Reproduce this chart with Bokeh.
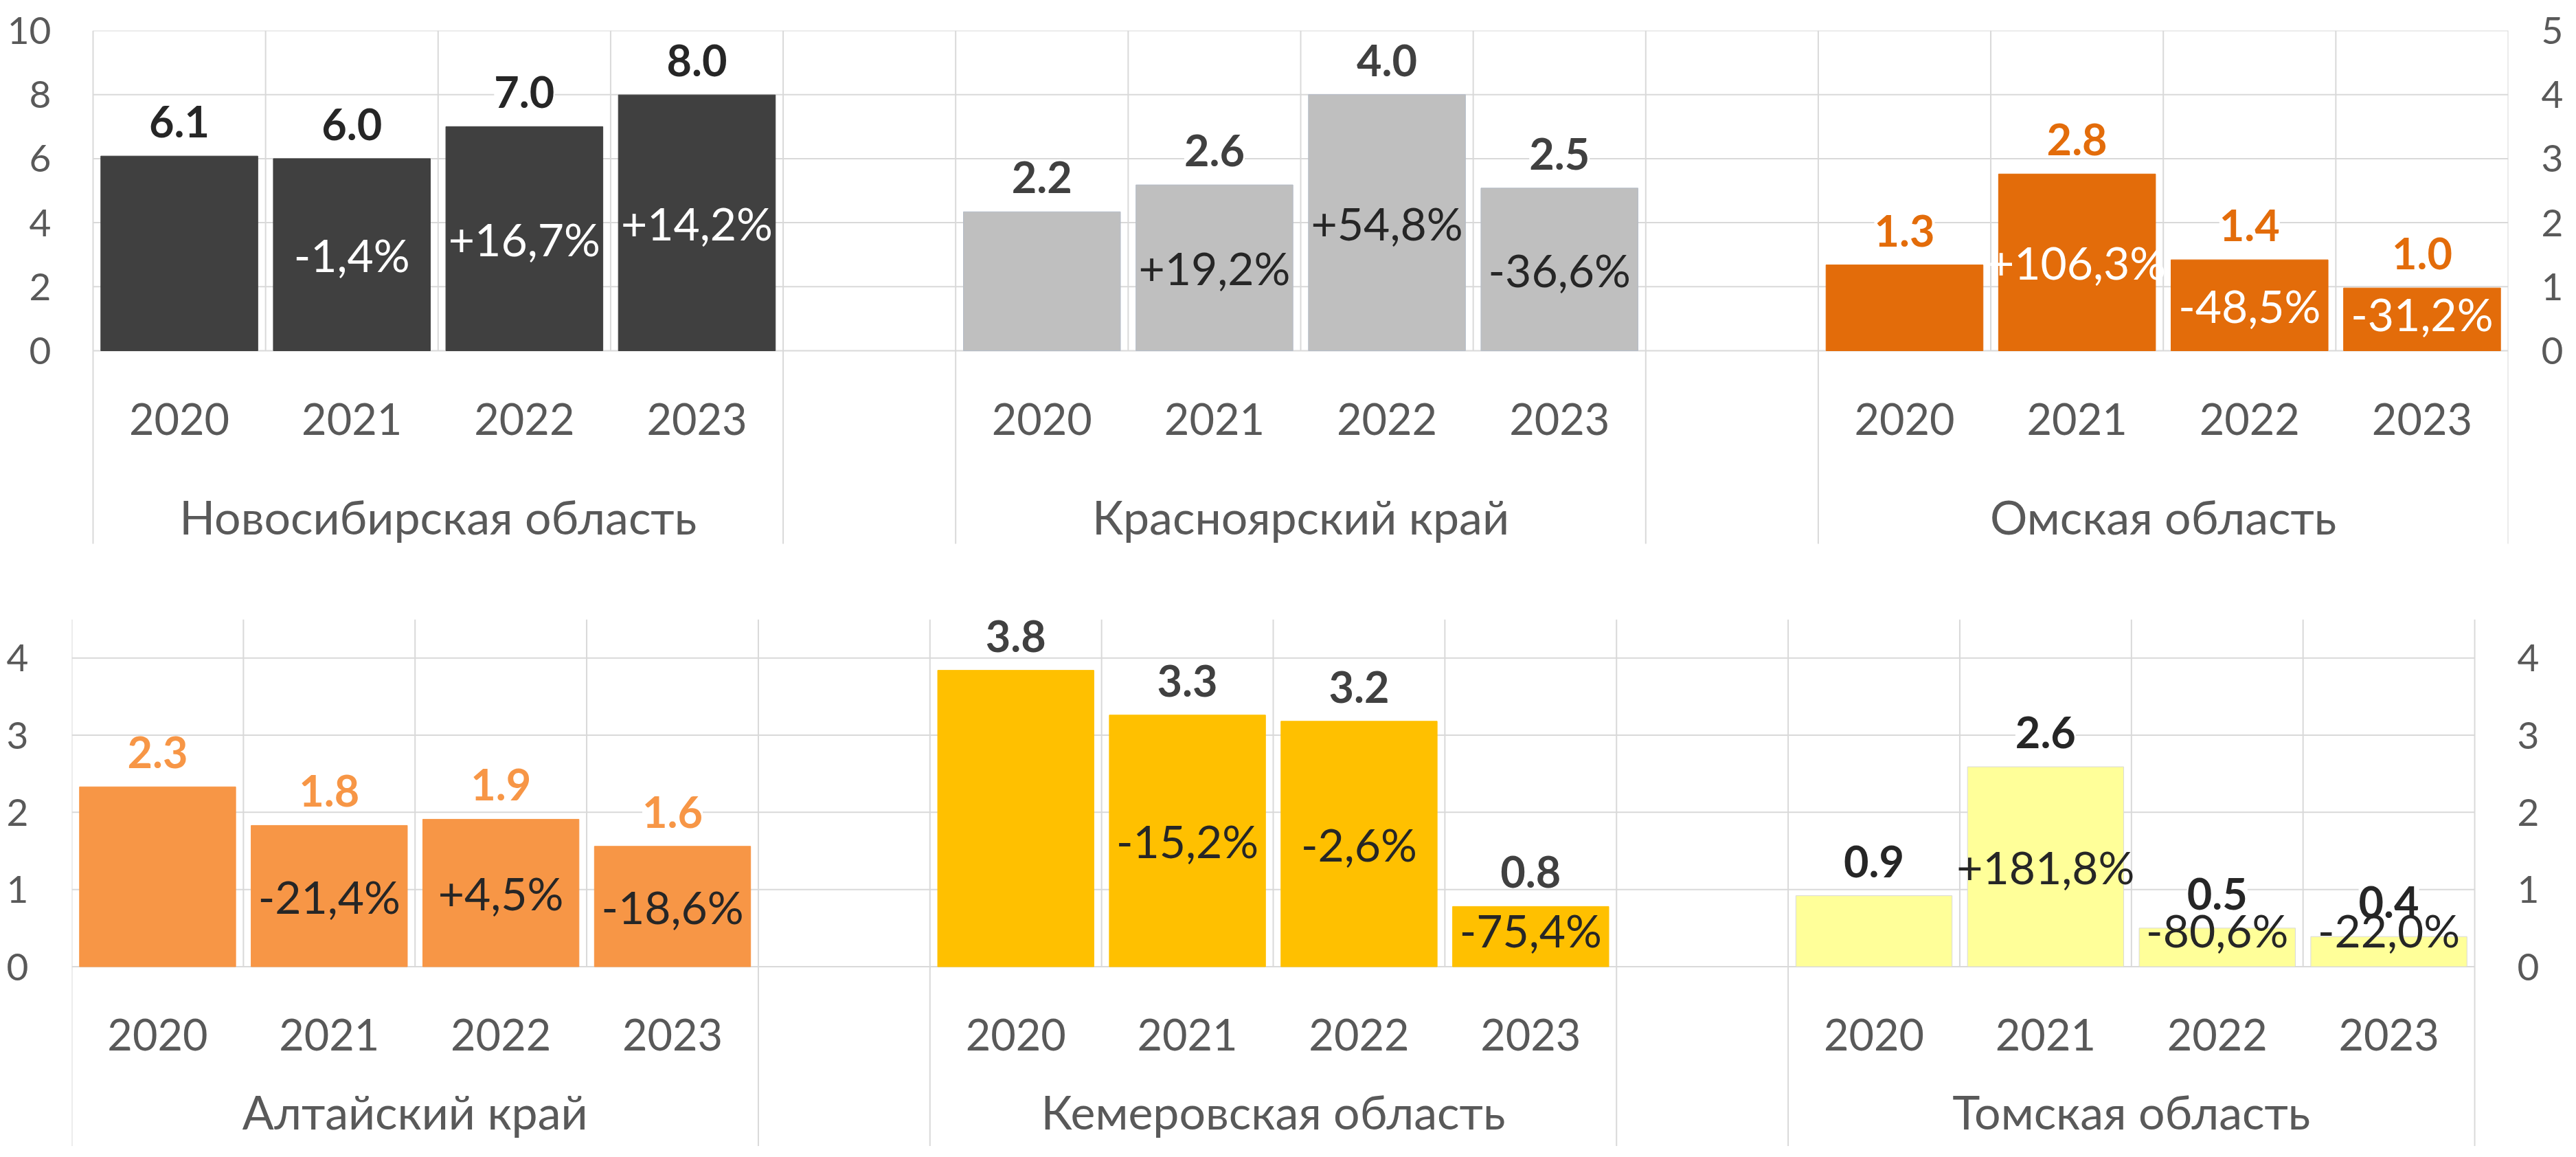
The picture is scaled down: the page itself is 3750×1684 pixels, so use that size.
from bokeh.plotting import figure
from bokeh.models import Range1d, LinearAxis, FixedTicker, ColumnDataSource, LabelSet
from bokeh.layouts import column
from bokeh.core.properties import value
from bokeh.embed import file_html
from bokeh.resources import INLINE

# ---------------- data ----------------
years = ["2020", "2021", "2022", "2023"]

top_regions = ["Новосибирская область", "Красноярский край", "Омская область"]
nsk_values = [6.08, 6.00, 7.00, 7.99]
krs_values = [2.17, 2.59, 4.00, 2.54]
oms_values = [1.34, 2.76, 1.42, 0.98]
nsk_pct = ["", "-1,4%", "+16,7%", "+14,2%"]
krs_pct = ["", "+19,2%", "+54,8%", "-36,6%"]
oms_pct = ["", "+106,3%", "-48,5%", "-31,2%"]
top_axes = ["left", "right", "right"]
top_left_ticks = [0, 2, 4, 6, 8, 10]
top_right_ticks = [0, 1, 2, 3, 4, 5]

bottom_regions = ["Алтайский край", "Кемеровская область", "Томская область"]
alt_values = [2.33, 1.83, 1.91, 1.56]
kem_values = [3.84, 3.26, 3.18, 0.78]
tom_values = [0.92, 2.59, 0.50, 0.39]
alt_pct = ["", "-21,4%", "+4,5%", "-18,6%"]
kem_pct = ["", "-15,2%", "-2,6%", "-75,4%"]
tom_pct = ["", "+181,8%", "-80,6%", "-22,0%"]
bottom_axes = ["left", "left", "right"]
bottom_left_ticks = [0, 1, 2, 3, 4]
bottom_right_ticks = [0, 1, 2, 3, 4]

# ---------------- style ----------------
FONT = "Lato"
W = 3734
FRAME_L = 104          # common frame left border (figures are frame-aligned)
FRAME_R = 81           # common frame right border
GRID = "#D9D9D9"
AXIS_TXT = "#595959"
N_YEARS = len(years)
N_SLOTS = 3 * N_YEARS + 2
BAR_W = 0.91
VAL_GAP = 50      # px between bar top and value-label centre
PCT_MIN = 54      # min px of percent-label centre above zero

top_style = dict(
    bar=["#404040", "#BFBFBF", "#E36C0A"],
    edge=["#404040", "#B4BCC8", "#E36C0A"],
    val=["#262626", "#404040", "#E36C0A"],
    pct=["#FFFFFF", "#262626", "#FFFFFF"],
)
bottom_style = dict(
    bar=["#F79646", "#FFC000", "#FFFF99"],
    edge=["#F79646", "#FFC000", "#D9D9D9"],
    val=["#F79646", "#404040", "#262626"],
    pct=["#262626", "#262626", "#262626"],
)


def style_axis(ax, standoff):
    ax.axis_line_color = None
    ax.major_tick_line_color = None
    ax.minor_tick_line_color = None
    ax.major_tick_out = 0
    ax.major_tick_in = 0
    ax.minor_tick_out = 0
    ax.minor_tick_in = 0
    ax.major_label_standoff = standoff
    ax.major_label_text_font = FONT
    ax.major_label_text_font_size = "55px"
    ax.major_label_text_color = AXIS_TXT


def build_panel(regions, series, pcts, on_axis, style, height, b_top,
                cat_left, cat_right, zero_px, sep_px, left_top, right_top,
                left_ticks, right_ticks, left_standoff, right_standoff,
                year_px, group_px):
    frame_h = height - b_top
    frame_w = W - FRAME_L - FRAME_R
    slot_px = (cat_right - cat_left) / N_SLOTS
    x_start = -(cat_left - FRAME_L) / slot_px
    x_end = x_start + frame_w / slot_px
    below = frame_h - zero_px
    ppu = {"default": zero_px / left_top, "right": zero_px / right_top}
    y0 = -below / ppu["default"]
    p = figure(width=W, height=height, output_backend="svg", toolbar_location=None,
               x_range=Range1d(x_start, x_end), y_range=Range1d(y0, left_top),
               x_axis_location=None, y_axis_location="left",
               min_border_top=b_top, min_border_bottom=0,
               min_border_left=FRAME_L, min_border_right=FRAME_R,
               background_fill_color="white", border_fill_color="white",
               outline_line_color=None)
    p.extra_y_ranges = {"right": Range1d(-below / ppu["right"], right_top)}

    yl = p.yaxis[0]
    yl.ticker = FixedTicker(ticks=left_ticks)
    style_axis(yl, left_standoff)
    yr = LinearAxis(y_range_name="right", ticker=FixedTicker(ticks=right_ticks))
    style_axis(yr, right_standoff)
    p.add_layout(yr, "right")

    p.xgrid[0].grid_line_color = None
    p.ygrid[0].grid_line_color = None

    # horizontal gridlines over the category area
    p.segment(x0=[0] * len(left_ticks), y0=left_ticks,
              x1=[N_SLOTS] * len(left_ticks), y1=left_ticks,
              line_color=GRID, line_width=2)
    # category separators
    bounds = list(range(N_SLOTS + 1))
    p.segment(x0=bounds, y0=[0] * len(bounds), x1=bounds, y1=[left_top] * len(bounds),
              line_color=GRID, line_width=2)
    edges = []
    for g in range(3):
        edges += [g * (N_YEARS + 1), g * (N_YEARS + 1) + N_YEARS]
    y_sep = -sep_px / ppu["default"]
    p.segment(x0=edges, y0=[y_sep] * len(edges), x1=edges, y1=[0] * len(edges),
              line_color=GRID, line_width=2)

    centers_all = []
    for g, vals in enumerate(series):
        rn = "default" if on_axis[g] == "left" else "right"
        k = ppu[rn]
        xs = [g * (N_YEARS + 1) + i + 0.5 for i in range(N_YEARS)]
        centers_all += xs
        src = ColumnDataSource(dict(
            x=xs, top=vals,
            val_y=[v + VAL_GAP / k for v in vals],
            val_txt=[f"{v:.1f}" for v in vals],
            pct_y=[max(v / 2, PCT_MIN / k) for v in vals],
            pct=pcts[g]))
        p.vbar(x="x", top="top", bottom=0, width=BAR_W, source=src, y_range_name=rn,
               fill_color=style["bar"][g], line_color=style["edge"][g], line_width=1)
        p.add_layout(LabelSet(x="x", y="val_y", text="val_txt", source=src,
                              y_range_name=rn, text_align="center",
                              text_baseline="middle", text_font=value(FONT),
                              text_font_size="63px", text_font_style="bold",
                              text_color=style["val"][g],
                              background_fill_color="white"))
        p.add_layout(LabelSet(x="x", y="pct_y", text="pct", source=src,
                              y_range_name=rn, text_align="center",
                              text_baseline="middle", text_font=value(FONT),
                              text_font_size="66px", text_color=style["pct"][g]))

    p.text(x=centers_all, y=[-year_px / ppu["default"]] * len(centers_all),
           text=years * 3, text_align="center", text_baseline="middle",
           text_font=value(FONT), text_font_size="63px", text_color=AXIS_TXT)
    gx = [g * (N_YEARS + 1) + N_YEARS / 2 for g in range(3)]
    p.text(x=gx, y=[-group_px / ppu["default"]] * 3, text=regions,
           text_align="center", text_baseline="middle",
           text_font=value(FONT), text_font_size="68px", text_color=AXIS_TXT)
    return p


# page coordinates are figure coordinates + 8 (body margin)
top = build_panel(top_regions, [nsk_values, krs_values, oms_values],
                  [nsk_pct, krs_pct, oms_pct], top_axes, top_style,
                  height=834, b_top=44, cat_left=135, cat_right=3653,
                  zero_px=466, sep_px=281, left_top=10, right_top=5,
                  left_ticks=top_left_ticks, right_ticks=top_right_ticks,
                  left_standoff=30, right_standoff=48,
                  year_px=99, group_px=241)

bottom = build_panel(bottom_regions, [alt_values, kem_values, tom_values],
                     [alt_pct, kem_pct, tom_pct], bottom_axes, bottom_style,
                     height=834, b_top=67, cat_left=104, cat_right=3604,
                     zero_px=505.5, sep_px=262, left_top=4.5, right_top=4.5,
                     left_ticks=bottom_left_ticks, right_ticks=bottom_right_ticks,
                     left_standoff=63, right_standoff=13,
                     year_px=99, group_px=210)

layout = column(top, bottom, spacing=0)
open("out.html", "w").write(file_html(layout, INLINE))
